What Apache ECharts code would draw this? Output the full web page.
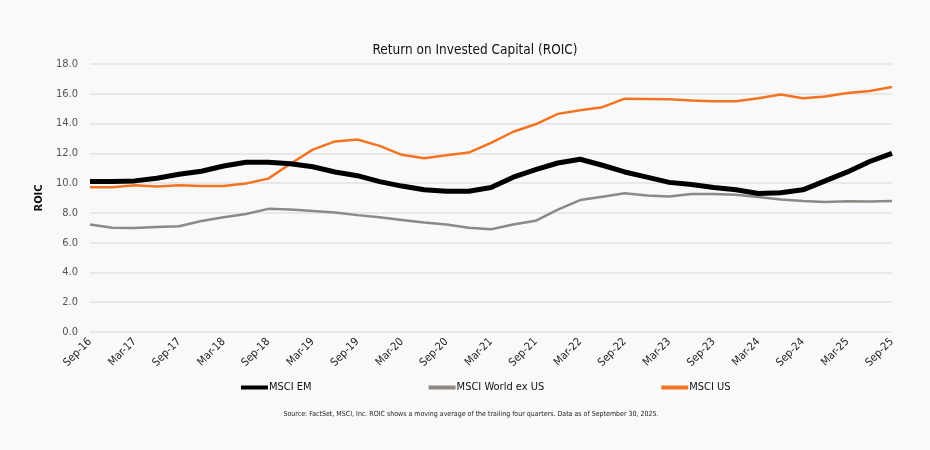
<!DOCTYPE html>
<html>
<head>
<meta charset="utf-8">
<script src="https://cdn.jsdelivr.net/npm/echarts@6/dist/echarts.min.js"></script>
<style>
html,body{margin:0;padding:0;background:#f9f9f9;}
#c{width:930px;height:450px;}
</style>
</head>
<body>
<div id="c"></div>
<script>
const categories = ["Sep-16","Dec-16","Mar-17","Jun-17","Sep-17","Dec-17","Mar-18","Jun-18","Sep-18","Dec-18",
"Mar-19","Jun-19","Sep-19","Dec-19","Mar-20","Jun-20","Sep-20","Dec-20","Mar-21","Jun-21",
"Sep-21","Dec-21","Mar-22","Jun-22","Sep-22","Dec-22","Mar-23","Jun-23","Sep-23","Dec-23",
"Mar-24","Jun-24","Sep-24","Dec-24","Mar-25","Jun-25","Sep-25"];
const msciEM = [10.1,10.1,10.15,10.33,10.6,10.8,11.15,11.4,11.4,11.3,
11.1,10.75,10.5,10.1,9.8,9.55,9.45,9.45,9.7,10.4,
10.9,11.35,11.6,11.2,10.75,10.4,10.05,9.9,9.7,9.55,
9.3,9.35,9.55,10.15,10.75,11.45,12.0];
const msciWorldExUS = [7.22,7.0,6.98,7.05,7.1,7.45,7.7,7.93,8.27,8.22,
8.13,8.02,7.85,7.7,7.53,7.35,7.22,7.0,6.9,7.22,
7.47,8.22,8.86,9.09,9.32,9.16,9.1,9.27,9.27,9.22,
9.07,8.9,8.8,8.73,8.78,8.76,8.8];
const msciUS = [9.73,9.73,9.85,9.78,9.85,9.8,9.8,9.98,10.3,11.3,
12.25,12.8,12.93,12.5,11.9,11.67,11.87,12.05,12.7,13.45,
13.95,14.65,14.9,15.1,15.67,15.65,15.63,15.55,15.5,15.5,
15.7,15.95,15.7,15.82,16.05,16.18,16.45];
const yTicks = {min:0, max:18, interval:2};

const font = "'DejaVu Sans Condensed', 'Roboto Condensed', Roboto, sans-serif";
const chart = echarts.init(document.getElementById('c'));
chart.setOption({
  backgroundColor:'#f9f9f9',
  animation:false,
  title:[{
    text:'Return on Invested Capital (ROIC)',
    left:470, top:38, textAlign:'center',
    textStyle:{fontFamily:font,fontSize:13.5,fontWeight:'normal',color:'#111'}
  },{
    text:'Source: FactSet, MSCI, Inc. ROIC shows a moving average of the trailing four quarters. Data as of September 30, 2025.',
    left:466, top:406, textAlign:'center',
    textStyle:{fontFamily:font,fontSize:7,fontWeight:'normal',color:'#222'}
  }],
  legend:{
    left:236, top:377, itemGap:117, itemWidth:27, itemHeight:4,
    icon:'rect',
    textStyle:{fontFamily:font,fontSize:11,color:'#111',padding:[0,0,0,-4]},
    data:['MSCI EM','MSCI World ex US','MSCI US']
  },
  grid:{left:90, right:38, top:64, bottom:118, containLabel:false},
  xAxis:{
    type:'category', data:categories, boundaryGap:false,
    axisLine:{show:false}, axisTick:{show:false},
    axisLabel:{interval:1, rotate:45, fontFamily:font, fontSize:11, color:'#222', margin:8}
  },
  yAxis:{
    type:'value', min:yTicks.min, max:yTicks.max, interval:yTicks.interval,
    name:'ROIC', nameLocation:'middle', nameGap:40, nameRotate:90,
    nameTextStyle:{fontFamily:font,fontSize:11,fontWeight:'bold',color:'#111'},
    axisLine:{show:false}, axisTick:{show:false},
    axisLabel:{formatter:v=>v.toFixed(1), fontFamily:font, fontSize:11, color:'#555', margin:12},
    splitLine:{lineStyle:{color:'#e2e2e2', width:1.5}}
  },
  series:[
    {name:'MSCI EM', type:'line', data:msciEM, symbol:'none', z:3,
     itemStyle:{color:'#000'}, lineStyle:{color:'#000', width:5}},
    {name:'MSCI World ex US', type:'line', data:msciWorldExUS, symbol:'none', z:2,
     itemStyle:{color:'#8e8984'}, lineStyle:{color:'#8e8984', width:2.5}},
    {name:'MSCI US', type:'line', data:msciUS, symbol:'none', z:2,
     itemStyle:{color:'#f47321'}, lineStyle:{color:'#f47321', width:2.5}}
  ]
});
</script>
</body>
</html>
